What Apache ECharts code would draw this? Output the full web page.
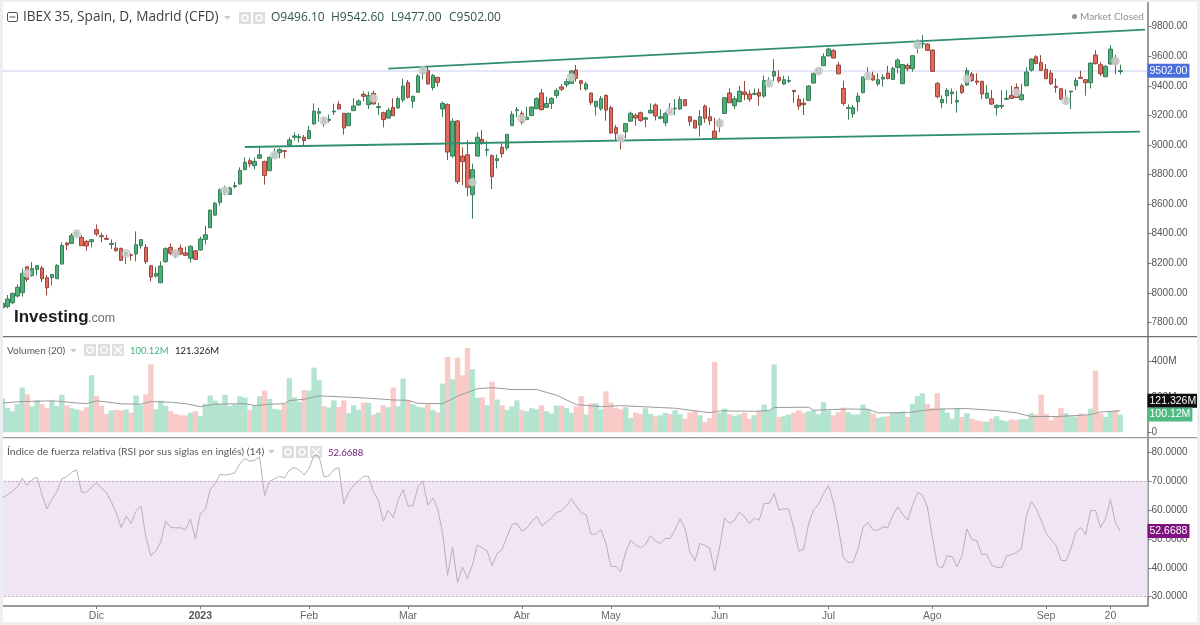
<!DOCTYPE html>
<html>
<head>
    <meta charset="utf-8">
    <title>IBEX 35</title>
    <script src="https://cdn.jsdelivr.net/npm/echarts@6/dist/echarts.min.js"></script>
    <style>
        html, body { margin: 0; padding: 0; background: #fff; }
        #main { width: 1200px; height: 625px; }
    </style>
</head>
<body>
    <div id="main"></div>
    <script>
        const opens = [
            7900,7907,7934,7979,8002,8177,8117,8159,8168,8103,
            8103,8096,8195,8337,8335,8391,8375,8348,8346,8427,
            8387,8369,8328,8303,8301,8254,8258,8263,8319,8308,
            8184,8114,8069,8211,8308,8279,8303,8270,8234,8285,
            8290,8362,8441,8526,8612,8680,8666,8718,8736,8833,
            8894,8860,8910,8889,8826,8916,8948,8961,8998,9052,
            9049,9052,9043,9142,9214,9178,9166,9223,9274,9214,
            9130,9232,9270,9342,9272,9349,9252,9218,9182,9254,
            9250,9304,9421,9295,9356,9484,9502,9387,9457,9243,
            9274,8925,9162,8925,8934,8664,8925,9038,8964,8928,
            8894,8984,8979,9130,9232,9214,9171,9198,9245,9351,
            9254,9281,9335,9392,9407,9416,9506,9434,9378,9351,
            9259,9245,9335,9252,9117,9052,9090,9160,9200,9218,
            9173,9216,9270,9180,9150,9238,9245,9243,9306,9191,
            9166,9135,9263,9191,9094,9130,9213,9351,9265,9292,
            9358,9344,9342,9355,9330,9405,9466,9457,9412,9430,
            9369,9308,9283,9301,9418,9486,9535,9601,9637,9540,
            9382,9247,9211,9292,9353,9450,9468,9412,9445,9486,
            9443,9524,9414,9538,9515,9659,9682,9682,9641,9416,
            9285,9333,9346,9290,9400,9405,9479,9432,9430,9317,
            9313,9252,9261,9308,9335,9389,9306,9400,9506,9596,
            9558,9511,9486,9396,9380,9285,9358,9400,9457,9441,
            9421,9608,9542,9461,9547,9580,9496.1
        ];
        const closes = [
            7930,7959,7997,8038,8132,8092,8166,8184,8096,8035,
            8125,8186,8321,8324,8387,8409,8319,8317,8360,8398,
            8380,8362,8335,8285,8220,8276,8254,8326,8360,8211,
            8107,8132,8182,8299,8267,8256,8263,8254,8315,8227,
            8364,8393,8560,8605,8697,8705,8709,8725,8829,8883,
            8871,8889,8934,8793,8916,8943,8970,8957,9034,9061,
            9056,9029,9097,9229,9225,9151,9173,9229,9243,9115,
            9214,9263,9297,9329,9335,9277,9259,9171,9234,9198,
            9313,9398,9322,9329,9466,9518,9412,9470,9423,9281,
            8952,9160,8752,8887,8714,8833,9052,9009,8970,8786,
            8907,8941,9072,9207,9238,9153,9187,9256,9313,9238,
            9281,9315,9367,9376,9428,9500,9450,9416,9412,9286,
            9295,9313,9236,9081,9076,9034,9144,9214,9182,9166,
            9184,9234,9196,9191,9213,9216,9249,9308,9265,9159,
            9114,9191,9180,9164,9049,9162,9319,9285,9312,9364,
            9340,9310,9348,9330,9436,9432,9497,9434,9441,9436,
            9360,9263,9272,9398,9481,9513,9596,9648,9587,9481,
            9281,9252,9252,9330,9459,9477,9439,9441,9457,9448,
            9517,9574,9544,9515,9603,9691,9686,9639,9497,9326,
            9308,9369,9358,9301,9355,9502,9434,9423,9344,9351,
            9276,9267,9267,9315,9315,9321,9340,9493,9580,9551,
            9504,9448,9414,9389,9310,9313,9364,9436,9450,9421,
            9553,9549,9481,9531,9648,9551,9502
        ];
        const highs = [
            7941,7986,8002,8058,8166,8177,8209,8188,8182,8121,
            8128,8195,8342,8344,8405,8425,8391,8357,8364,8463,
            8407,8393,8362,8344,8306,8279,8267,8416,8364,8330,
            8188,8177,8213,8308,8335,8290,8328,8312,8321,8290,
            8380,8454,8562,8616,8706,8725,8718,8750,8849,8916,
            8910,8916,8993,8894,8921,8977,8977,8966,9052,9085,
            9074,9067,9128,9281,9252,9191,9205,9279,9295,9214,
            9218,9315,9308,9362,9360,9367,9286,9225,9252,9315,
            9326,9448,9439,9333,9479,9524,9529,9479,9457,9293,
            9281,9180,9169,8984,9031,8874,9085,9101,9027,8937,
            8937,9011,9074,9229,9256,9229,9259,9259,9322,9380,
            9326,9322,9383,9412,9448,9506,9540,9439,9428,9353,
            9299,9331,9342,9265,9135,9052,9146,9225,9214,9225,
            9191,9281,9281,9241,9225,9283,9310,9328,9308,9195,
            9171,9236,9274,9252,9184,9180,9322,9382,9330,9400,
            9432,9371,9382,9382,9468,9457,9580,9504,9468,9466,
            9369,9337,9315,9405,9490,9522,9619,9657,9648,9562,
            9434,9274,9270,9353,9463,9524,9495,9484,9477,9535,
            9529,9585,9544,9551,9608,9713,9743,9686,9648,9427,
            9335,9382,9382,9364,9416,9524,9493,9484,9434,9405,
            9371,9276,9369,9371,9398,9416,9412,9524,9585,9607,
            9607,9547,9506,9450,9385,9376,9364,9454,9502,9445,
            9558,9641,9560,9540,9675,9608,9542.6
        ];
        const lows = [
            7885,7896,7925,7970,7975,8074,8110,8119,8074,7984,
            8051,8096,8195,8290,8330,8375,8317,8285,8308,8384,
            8342,8357,8297,8279,8216,8195,8218,8213,8299,8195,
            8078,8103,8065,8204,8256,8234,8256,8249,8204,8222,
            8285,8328,8438,8520,8592,8660,8662,8707,8732,8829,
            8849,8835,8907,8732,8826,8910,8910,8910,8993,9029,
            9016,8993,9038,9137,9157,9124,9151,9202,9241,9070,
            9128,9229,9263,9295,9243,9274,9200,9119,9178,9196,
            9245,9288,9313,9250,9356,9443,9410,9369,9394,9189,
            8898,8914,8736,8729,8655,8502,8921,9002,8925,8702,
            8842,8914,8964,9128,9187,9139,9169,9196,9241,9234,
            9252,9243,9315,9365,9389,9414,9428,9371,9367,9270,
            9198,9232,9164,9074,9034,8970,9047,9157,9130,9157,
            9119,9214,9166,9173,9126,9202,9202,9238,9263,9130,
            9112,9056,9150,9135,9040,9085,9211,9283,9243,9290,
            9303,9292,9337,9265,9319,9394,9432,9418,9405,9418,
            9285,9238,9202,9299,9416,9477,9533,9601,9585,9477,
            9265,9171,9184,9229,9348,9439,9434,9398,9394,9443,
            9441,9484,9412,9497,9495,9619,9653,9635,9495,9315,
            9249,9281,9276,9218,9344,9398,9427,9405,9310,9312,
            9270,9198,9243,9303,9310,9317,9299,9396,9495,9544,
            9499,9445,9405,9353,9303,9276,9243,9371,9450,9333,
            9382,9544,9466,9459,9544,9477,9477
        ];
        const volumes = [
            191,138,119,159,253,215,147,181,159,138,
            179,149,212,153,136,130,123,142,323,206,
            149,104,123,127,123,128,111,208,153,215,
            385,130,179,149,119,104,96,96,111,119,
            91,162,208,179,159,212,149,159,204,196,
            125,149,204,236,189,132,127,162,306,198,
            172,240,236,366,295,147,140,181,144,181,
            108,153,127,168,166,100,111,153,142,253,
            147,304,181,159,144,140,159,125,113,276,
            427,300,423,323,478,357,195,198,153,287,
            185,153,127,147,181,127,119,136,130,153,
            119,106,151,151,138,111,147,204,100,164,
            164,130,232,168,138,130,142,81,111,104,
            136,104,91,96,110,104,125,102,77,111,
            121,96,57,81,399,111,134,102,93,100,
            110,77,96,121,157,125,385,87,91,100,
            111,125,111,119,125,102,170,123,96,113,
            140,113,100,102,157,130,106,81,87,91,
            110,113,119,87,161,204,221,161,138,221,
            134,111,77,138,87,108,77,68,62,59,
            77,91,68,62,72,70,74,74,108,100,
            213,104,68,87,138,108,91,89,106,96,
            134,349,106,87,119,125,100.12
        ];
        // vertices of the grey 20 day average, [bar, value in M]
        const volumeAverage = [
            [0,166],[4,174],[7,176],[10,178],[12,174],[15,166],[17,162],[19,178],[21,172],[24,161],
            [28,159],[30,174],[34,170],[37,162],[40,145],[43,159],[49,162],[51,151],[54,159],[57,162],
            [58,179],[61,187],[64,206],[69,200],[74,193],[77,187],[79,183],[82,181],[84,164],[89,162],
            [92,204],[96,247],[99,253],[103,242],[108,242],[112,210],[116,157],[121,145],[125,151],[130,144],
            [136,136],[139,125],[143,111],[145,121],[152,119],[155,123],[156,140],[163,142],[164,125],[171,132],
            [175,130],[177,110],[183,111],[186,123],[190,132],[195,134],[201,123],[205,110],[208,89],[213,89],
            [218,96],[220,100],[222,115],[226,121.326]
        ];
        const rsiValues = [
            64.2,65.1,66.4,67.9,70.9,68.4,70.5,71.2,65.1,60.3,
            63.6,66.3,70.7,71.4,73.0,73.8,66.1,66.1,67.7,69.5,
            67.4,66.0,62.8,59.0,53.9,57.8,55.3,59.5,61.3,50.7,
            44.1,45.8,48.9,56.1,53.9,53.8,53.8,53.1,56.9,50.0,
            58.7,60.1,67.0,69.1,72.2,72.0,72.3,72.8,76.0,77.7,
            76.8,77.1,78.3,64.9,69.8,70.7,71.6,71.0,73.7,74.6,
            73.7,72.0,74.3,78.9,78.5,71.4,71.7,73.9,74.6,62.2,
            66.2,68.4,70.0,71.6,71.6,66.2,63.3,56.1,59.8,57.3,
            63.3,67.0,61.3,61.5,67.9,70.0,61.6,64.0,60.4,51.8,
            37.4,47.2,34.9,40.3,36.3,40.9,47.8,46.9,45.7,40.7,
            44.9,46.3,50.7,54.9,55.3,52.7,53.7,56.0,57.7,54.5,
            55.7,57.2,59.1,59.6,61.3,63.8,61.3,59.0,58.3,51.5,
            51.7,53.2,48.4,40.5,40.4,38.7,45.5,49.5,47.9,46.9,
            48.1,51.1,49.3,48.4,50.1,50.1,53.2,56.9,53.5,45.5,
            42.4,48.4,47.8,46.7,39.0,47.2,57.2,55.3,56.4,59.2,
            57.6,55.3,57.2,56.4,62.2,62.2,65.6,59.9,60.4,60.1,
            53.5,45.8,46.4,55.3,60.1,61.9,65.6,68.3,62.8,54.1,
            43.5,41.8,42.0,46.6,54.1,55.6,53.0,53.0,54.1,53.9,
            58.1,61.0,58.5,56.4,61.6,66.0,65.1,61.0,50.7,40.9,
            39.9,44.1,43.8,40.3,44.3,53.4,49.7,49.3,44.5,44.7,
            40.9,40.2,40.0,44.1,44.5,45.3,46.5,57.8,62.9,60.4,
            56.4,52.0,49.7,47.8,42.6,42.4,46.6,52.4,53.9,51.5,
            59.8,59.8,53.9,56.8,63.6,55.6,52.6688
        ];
        // grey event dots on the price pane, [bar, price]
        const eventDots = [
            [5,8132],[15,8400],[25,8267],[35,8267],[45,8691],[55,8930],[65,9164],[75,9315],
            [85,9504],[95,8748],[105,9180],[115,9457],[125,9043],[135,9227],[145,9146],[155,9416],
            [165,9499],[175,9466],[185,9675],[195,9448],[205,9355],[215,9299],[225,9567]
        ];
        const upperTrend = [[78,9516],[231,9780]];
        const lowerTrend = [[49,8986],[230,9090]];

        const priceTicks = [7800,8000,8200,8400,8600,8800,9000,9200,9400,9600,9800];
        const volumeTicks = [0,200,400];
        const rsiTicks = [30,40,50,60,70,80];
        const tickBars = [19,40,62,82,105,123,145,167,188,211,224];
        const tickLabels = ['Dic','2023','Feb','Mar','Abr','May','Jun','Jul','Ago','Sep','20'];

        const lastClose = 9502;
        const lastVolume = 100.12;
        const lastVolumeAverage = 121.326;
        const lastRsi = 52.6688;

        const slotCount = 232;
        const categories = Array.from({length: slotCount}, (_, i) => String(i));
        const ohlc = opens.map((o, i) => [o, closes[i], lows[i], highs[i]]);

        const GRID_LEFT = -0.8, GRID_WIDTH = 1148.3;
        const TEXT = 'Open Sans', SMALL = 'Lato', AXIS = 'Liberation Sans';
        const axisColor = '#77797c';
        const hidden = 'rgba(0,0,0,0)';

        function xAxisFor(gridIndex, visible) {
            const pick = index => tickBars.includes(index);
            return {
                type: 'category', gridIndex: gridIndex, data: categories, boundaryGap: true,
                axisLine: {show: visible, lineStyle: {color: axisColor, width: 1.5}},
                axisTick: {show: visible, interval: pick, alignWithLabel: true, length: 3, lineStyle: {color: axisColor}},
                axisLabel: {
                    show: visible, interval: pick, hideOverlap: false, margin: 5,
                    fontFamily: AXIS, fontSize: 10.5, color: '#666',
                    formatter: v => {
                        const label = tickLabels[tickBars.indexOf(Number(v))];
                        return label === '2023' ? '{b|2023}' : label;
                    },
                    rich: {b: {fontWeight: 'bold', fontFamily: AXIS, fontSize: 10.5, color: '#555'}}
                },
                splitLine: {show: false}
            };
        }

        function yAxisFor(gridIndex, min, max, ticks, format) {
            return {
                type: 'value', gridIndex: gridIndex, position: 'right', min: min, max: max, scale: true,
                axisLine: {show: true, onZero: false, lineStyle: {color: axisColor, width: 1.5}},
                axisTick: {show: true, length: 4, customValues: ticks, lineStyle: {color: axisColor}},
                axisLabel: {
                    show: true, customValues: ticks, formatter: format, margin: 4,
                    fontFamily: AXIS, fontSize: 10, color: '#555'
                },
                splitLine: {show: false}
            };
        }

        // price tag on the axis; the volume tags are pushed apart with offsetY as in the original
        function tag(value, text, background, textColor, offsetY) {
            return {
                yAxis: value,
                label: {
                    show: true, position: 'end', distance: 0, formatter: text,
                    offset: [0, offsetY || 0],
                    backgroundColor: background, color: textColor,
                    padding: [2, 2, 1, 2], fontFamily: AXIS, fontSize: 10.5
                }
            };
        }

        function button(x, y) {
            return [
                {type: 'rect', shape: {x: x, y: y, width: 12, height: 12}, style: {fill: '#dcdedf'}, silent: true},
                {type: 'circle', shape: {cx: x + 6, cy: y + 6, r: 3}, style: {fill: 'none', stroke: '#fff', lineWidth: 1.4}, silent: true}
            ];
        }
        function closeButton(x, y) {
            return [
                {type: 'rect', shape: {x: x, y: y, width: 12, height: 12}, style: {fill: '#dcdedf'}, silent: true},
                {type: 'line', shape: {x1: x + 2, y1: y + 2, x2: x + 10, y2: y + 10}, style: {stroke: '#fff', lineWidth: 1.5}, silent: true},
                {type: 'line', shape: {x1: x + 10, y1: y + 2, x2: x + 2, y2: y + 10}, style: {stroke: '#fff', lineWidth: 1.5}, silent: true}
            ];
        }
        function caption(text, x, y, size, color, extra) {
            return {
                type: 'text', silent: true, z: 20,
                style: Object.assign({
                    text: text, x: x, y: y, fill: color, fontFamily: SMALL, fontSize: size,
                    textVerticalAlign: 'middle'
                }, extra || {})
            };
        }
        function chevron(x, y) {
            return {type: 'polygon', silent: true, shape: {points: [[x, y], [x + 7, y], [x + 3.5, y + 3.5]]}, style: {fill: '#c8c8c8'}};
        }
        function frameBar(x, y, width, height, fill) {
            return {type: 'rect', silent: true, z: 30, shape: {x: x, y: y, width: width, height: height}, style: {fill: fill}};
        }

        const overlay = [
            frameBar(0, 0, 3, 625, '#eceef1'), frameBar(0, 0, 1200, 2, '#eceef1'),
            frameBar(0, 622, 1200, 3, '#eceef1'), frameBar(1197, 0, 3, 625, '#eceef1'),
            frameBar(3, 336, 1194, 1.2, '#6f7072'), frameBar(3, 437, 1194, 1.2, '#9a9b9d'),
            {type: 'rect', silent: true, shape: {x: 7.5, y: 12.5, width: 10, height: 9, r: 1.5}, style: {fill: '#fff', stroke: '#555', lineWidth: 1}},
            {type: 'line', silent: true, shape: {x1: 9.5, y1: 17, x2: 15.5, y2: 17}, style: {stroke: '#555', lineWidth: 1}},
            caption('IBEX 35, Spain, D, Madrid (CFD)', 23, 17, 13.6, '#3b3f44', {fontFamily: TEXT}),
            chevron(224, 16),
            ...button(239, 12), ...button(253, 12),
            caption('O9496.10', 271, 18, 12, '#2f5746', {fontFamily: TEXT}),
            caption('H9542.60', 331, 18, 12, '#2f5746', {fontFamily: TEXT}),
            caption('L9477.00', 391, 18, 12, '#2f5746', {fontFamily: TEXT}),
            caption('C9502.00', 449, 18, 12, '#2f5746', {fontFamily: TEXT}),
            {type: 'circle', silent: true, shape: {cx: 1074.5, cy: 16.5, r: 2.5}, style: {fill: '#8f9296'}},
            caption('Market Closed', 1080, 16.5, 10, '#8f9296'),
            caption('Investing', 14, 317, 17, '#1d1d1f', {fontFamily: 'Liberation Sans', fontWeight: 'bold'}),
            caption('.com', 88, 318.5, 12.5, '#6b6d70', {fontFamily: 'Liberation Sans'}),
            caption('Volumen (20)', 7, 350.5, 10, '#55585c'),
            chevron(70, 349),
            ...button(84, 344), ...button(98, 344), ...closeButton(112, 344),
            caption('100.12M', 130, 351, 9.5, '#43b27c'),
            caption('121.326M', 175, 351, 9.5, '#222'),
            caption('Índice de fuerza relativa (RSI por sus siglas en inglés) (14)', 7, 452, 10.4, '#55585c'),
            chevron(268, 450),
            ...button(282, 446), ...button(296, 446), ...closeButton(310, 446),
            caption('52.6688', 328, 452.5, 9.5, '#6d1a78')
        ];

        const myChart = echarts.init(document.getElementById('main'));

        const option = {
            animation: false,
            backgroundColor: '#fff',
            graphic: overlay,
            grid: [
                {left: GRID_LEFT, width: GRID_WIDTH, top: 2, height: 334},
                {left: GRID_LEFT, width: GRID_WIDTH, top: 337, height: 100},
                {left: GRID_LEFT, width: GRID_WIDTH, top: 438, height: 168}
            ],
            xAxis: [xAxisFor(0, false), xAxisFor(1, false), xAxisFor(2, true)],
            yAxis: [
                yAxisFor(0, 7709, 9966, priceTicks, v => v.toFixed(2)),
                yAxisFor(1, -27, 540, volumeTicks, v => v === 0 ? '0' : v + 'M'),
                yAxisFor(2, 26.8, 84.8, rsiTicks, v => v.toFixed(4))
            ],
            series: [
                {
                    type: 'candlestick', name: 'IBEX 35', xAxisIndex: 0, yAxisIndex: 0, data: ohlc, z: 3,
                    barWidth: 4,
                    itemStyle: {color: '#4cb077', color0: '#e3695a', borderColor: '#3a7d5a', borderColor0: '#96483e', borderWidth: 1},
                    markLine: {
                        silent: true, symbol: 'none', z: 1,
                        lineStyle: {color: '#dcdff6', width: 1.5, type: 'solid'},
                        data: [tag(lastClose, lastClose.toFixed(2), '#4a6fdc', '#fff')]
                    }
                },
                {
                    type: 'line', name: 'upper', xAxisIndex: 0, yAxisIndex: 0, data: upperTrend, z: 5,
                    showSymbol: false, lineStyle: {color: '#2f8f70', width: 1.8}
                },
                {
                    type: 'line', name: 'lower', xAxisIndex: 0, yAxisIndex: 0, data: lowerTrend, z: 5,
                    showSymbol: false, lineStyle: {color: '#2f8f70', width: 1.8}
                },
                {
                    type: 'scatter', name: 'events', xAxisIndex: 0, yAxisIndex: 0, data: eventDots, z: 6,
                    symbolSize: 8, itemStyle: {color: '#d4d7d7', borderColor: '#b9bcbc', borderWidth: 0.8}
                },
                {
                    type: 'bar', name: 'Volumen', xAxisIndex: 1, yAxisIndex: 1, data: volumes, barWidth: 5.4,
                    itemStyle: {color: p => closes[p.dataIndex] >= opens[p.dataIndex] ? '#b3e4cf' : '#f8cbc8'},
                    markLine: {
                        silent: true, symbol: 'none', z: 8,
                        lineStyle: {color: hidden, width: 1, type: 'solid'},
                        data: [
                            tag(lastVolumeAverage, lastVolumeAverage + 'M', '#0c0c0c', '#fff', -10),
                            tag(lastVolume, lastVolume + 'M', '#4fbb82', '#fff')
                        ]
                    }
                },
                {
                    type: 'line', name: 'Volumen (20)', xAxisIndex: 1, yAxisIndex: 1, data: volumeAverage, z: 4,
                    showSymbol: false, lineStyle: {color: '#9b9b9b', width: 1}
                },
                {
                    type: 'line', name: 'RSI', xAxisIndex: 2, yAxisIndex: 2, data: rsiValues, z: 4,
                    showSymbol: false, lineStyle: {color: '#bfaac3', width: 1},
                    markArea: {silent: true, itemStyle: {color: '#f0e5f2'}, data: [[{yAxis: 70}, {yAxis: 30}]]},
                    markLine: {
                        silent: true, symbol: 'none', z: 8,
                        lineStyle: {color: '#bdb3be', width: 1, type: [2, 2]},
                        label: {show: false},
                        data: [
                            {yAxis: 70}, {yAxis: 30},
                            Object.assign(tag(lastRsi, String(lastRsi), '#7e117f', '#fff'), {lineStyle: {color: hidden}})
                        ]
                    }
                }
            ]
        };

        myChart.setOption(option);
    </script>
</body>
</html>
